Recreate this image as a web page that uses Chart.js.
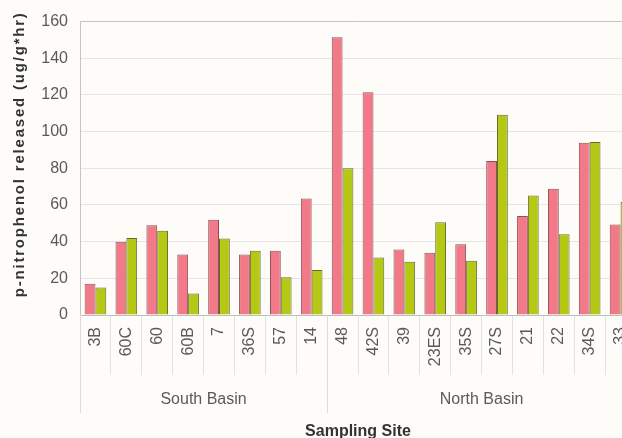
<!DOCTYPE html>
<html>
<head>
<meta charset="utf-8">
<script src="https://cdn.jsdelivr.net/npm/chart.js@4.4.1/dist/chart.umd.min.js"></script>
<style>
  html, body { margin: 0; padding: 0; background: #fdfcf8; overflow: hidden; }
  #wrap { width: 660px; height: 438px; }
</style>
</head>
<body>
<div id="wrap"><canvas id="chart" width="660" height="438"></canvas></div>
<script>
const sites = ["3B", "60C", "60", "60B", "7", "36S", "57", "14",
  "48", "42S", "39", "23ES", "35S", "27S", "21", "22", "34S", "33"];
const redValues = [17, 40, 49, 33, 52, 33, 35, 63.5,
  151.5, 121.5, 35.7, 34, 38.6, 84, 54, 68.8, 94, 49.4];
const greenValues = [15, 42, 46, 11.7, 41.7, 35, 20.6, 24.6,
  80, 31.4, 29, 50.6, 29.6, 109.2, 65.2, 44, 94.4, 61.6];
const groups = ["South Basin", "North Basin"];
const groupSizes = [8, 10];
const yTicks = [0, 20, 40, 60, 80, 100, 120, 140, 160];
const yTitle = "p-nitrophenol released (ug/g*hr)";

const textColor = "#5a5a5a";
const fontFamily = "Arial, 'Liberation Sans'";

// group separators, basin names and the y title
const groupPlugin = {
  id: "groups",
  afterDraw(chart) {
    const ctx = chart.ctx;
    const x = chart.scales.x;
    const y = chart.scales.y;
    const half = (x.getPixelForValue(1) - x.getPixelForValue(0)) / 2;
    const top = x.top;
    ctx.save();
    ctx.strokeStyle = "#dcdcdc";
    ctx.lineWidth = 1;
    ctx.fillStyle = textColor;
    ctx.font = "16px " + fontFamily;
    ctx.textAlign = "center";
    ctx.textBaseline = "middle";
    let start = 0;
    groups.forEach((g, i) => {
      const end = start + groupSizes[i] - 1;
      const left = x.getPixelForValue(start) - half;
      const right = x.getPixelForValue(end) + half;
      [left, right].forEach(px => {
        ctx.beginPath();
        ctx.moveTo(Math.round(px) + 0.5, top);
        ctx.lineTo(Math.round(px) + 0.5, top + 98);
        ctx.stroke();
      });
      ctx.fillText(g, (left + right) / 2, top + 85);
      start = end + 1;
    });

    // y axis title, a bit above the middle of the plot
    ctx.translate(20, (y.top + y.bottom) / 2 - 14);
    ctx.rotate(-Math.PI / 2);
    ctx.fillStyle = "#333";
    ctx.font = "bold 15px " + fontFamily;
    ctx.letterSpacing = "1.8px";
    ctx.fillText(yTitle, 0, 0);
    ctx.restore();
  }
};

new Chart(document.getElementById("chart"), {
  type: "bar",
  data: {
    labels: sites,
    datasets: [{
      label: "Red",
      data: redValues,
      backgroundColor: "#f27a88",
      borderColor: "#8a5058",
      borderWidth: 1
    }, {
      label: "Green",
      data: greenValues,
      backgroundColor: "#b4c814",
      borderColor: "#6a6a30",
      borderWidth: 1
    }]
  },
  options: {
    responsive: false,
    animation: false,
    layout: { padding: { top: 8.4, left: 6, right: 24, bottom: 0 } },
    datasets: { bar: { categoryPercentage: 0.7, barPercentage: 1.0 } },
    plugins: { legend: { display: false }, tooltip: { enabled: false } },
    scales: {
      x: {
        afterFit: s => { s.height = 123; },
        grid: { drawOnChartArea: false, color: "#e2e2e2", tickLength: 60, offset: true },
        border: { color: "#bdbdbd" },
        ticks: {
          color: textColor,
          font: { family: fontFamily, size: 16 },
          minRotation: 90, maxRotation: 90, padding: -48, autoSkip: false
        },
        title: {
          display: true, text: "Sampling Site", color: "#333",
          font: { family: fontFamily, size: 16, weight: "bold" },
          padding: { top: 0, bottom: -3 }
        }
      },
      y: {
        min: 0, max: 160,
        afterFit: s => { s.width = 74; },
        afterBuildTicks: s => { s.ticks = yTicks.map(v => ({ value: v })); },
        grid: {
          color: c => c.tick && c.tick.value === 160 ? "#c4c4c4" : "#e6e6e6",
          drawTicks: false
        },
        border: { color: "#c4c4c4" },
        ticks: {
          color: textColor,
          font: { family: fontFamily, size: 16 },
          padding: 12
        }
      }
    }
  },
  plugins: [groupPlugin]
});
</script>
</body>
</html>
